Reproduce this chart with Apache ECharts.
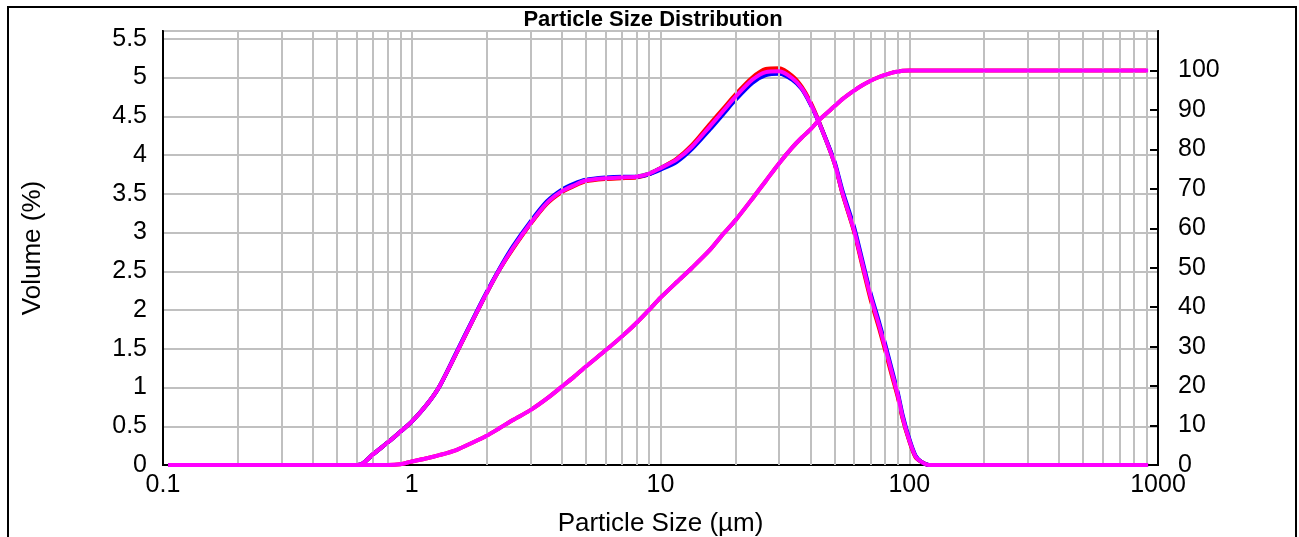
<!DOCTYPE html>
<html>
<head>
<meta charset="utf-8">
<script src="https://cdn.jsdelivr.net/npm/echarts@6/dist/echarts.min.js"></script>
<style>
  html, body { margin: 0; padding: 0; background: #fff; }
  #chart { width: 1299px; height: 537px; }
</style>
</head>
<body>
<div id="chart"></div>
<script>
// Particle sizes (µm)
const sizes = [0.105, 0.6, 0.635, 0.7, 0.8, 0.9, 1, 1.15, 1.29, 1.51, 1.76, 2, 2.25, 2.55, 3, 3.49, 4, 4.5, 5, 6, 7, 8, 9, 10, 11.6, 13.4, 15.8, 18, 20, 23.4, 26.5, 30, 33.9, 37, 40, 43.5, 50, 54, 60, 65, 70, 76, 80, 85, 90, 94, 100, 106, 112, 120, 200, 500, 912];
// Volume density (%) – individual measurements
const volMagenta = [0, 0, 0.02, 0.14, 0.29, 0.43, 0.56, 0.78, 1.01, 1.44, 1.87, 2.22, 2.52, 2.80, 3.12, 3.38, 3.53, 3.61, 3.67, 3.70, 3.71, 3.72, 3.76, 3.83, 3.94, 4.11, 4.37, 4.58, 4.75, 4.97, 5.07, 5.08, 4.99, 4.86, 4.67, 4.41, 3.90, 3.50, 3.03, 2.58, 2.17, 1.78, 1.52, 1.20, 0.90, 0.62, 0.32, 0.11, 0.04, 0, 0, 0, 0];
const volRed     = [0, 0, 0.02, 0.14, 0.29, 0.43, 0.56, 0.78, 1.01, 1.44, 1.87, 2.22, 2.52, 2.79, 3.11, 3.37, 3.52, 3.60, 3.66, 3.69, 3.70, 3.71, 3.75, 3.83, 3.95, 4.13, 4.40, 4.61, 4.78, 5.00, 5.11, 5.12, 5.02, 4.88, 4.69, 4.42, 3.90, 3.49, 3.01, 2.55, 2.13, 1.74, 1.48, 1.16, 0.87, 0.60, 0.31, 0.10, 0.04, 0, 0, 0, 0];
const volBlue    = [0, 0, 0.02, 0.14, 0.29, 0.43, 0.56, 0.78, 1.01, 1.45, 1.88, 2.23, 2.53, 2.82, 3.14, 3.40, 3.55, 3.63, 3.68, 3.71, 3.72, 3.72, 3.75, 3.81, 3.91, 4.08, 4.33, 4.54, 4.71, 4.93, 5.03, 5.05, 4.97, 4.85, 4.66, 4.41, 3.92, 3.53, 3.07, 2.62, 2.21, 1.82, 1.56, 1.24, 0.93, 0.65, 0.34, 0.12, 0.04, 0, 0, 0, 0];
// Cumulative volume (%)
const cumMagenta = [0, 0, 0, 0, 0, 0.2, 0.9, 1.7, 2.5, 3.8, 5.7, 7.4, 9.3, 11.4, 13.9, 16.8, 19.8, 22.4, 24.9, 29.0, 32.6, 36.0, 39.3, 42.4, 46.3, 50.0, 54.5, 58.8, 62.0, 67.5, 72.0, 76.5, 80.5, 83.0, 85.0, 87.5, 90.9, 92.8, 94.9, 96.3, 97.4, 98.4, 98.9, 99.4, 99.7, 99.9, 100, 100, 100, 100, 100, 100, 100];
// Vertical minor grid positions (µm)
const minorGrid = [0.2, 0.3, 0.4, 0.5, 0.6, 0.7, 0.8, 0.9, 2, 3, 4, 5, 6, 7, 8, 9, 20, 30, 40, 50, 60, 70, 80, 90, 200, 300, 400, 500, 600, 700, 800, 900];

const FONT = "'Liberation Sans', Arial, sans-serif";
const pair = arr => sizes.map((s, i) => [s, arr[i]]);

const chart = echarts.init(document.getElementById('chart'), null, { renderer: 'canvas' });

const lineSeries = (name, data, color, yIndex, z) => ({
  name, type: 'line', data: pair(data), xAxisIndex: 0, yAxisIndex: yIndex,
  showSymbol: false, symbol: 'none', smooth: 0.25, z,
  lineStyle: { color, width: 4 }, emphasis: { disabled: true }, silent: true
});

chart.setOption({
  animation: false,
  backgroundColor: '#ffffff',
  graphic: [
    { type: 'rect', z: -10, shape: { x: 8, y: 7, width: 1288, height: 545 }, style: { fill: 'none', stroke: '#000', lineWidth: 2 } },
    { type: 'text', z: 10, style: { x: 653, y: 20, text: 'Particle Size Distribution', fill: '#000', font: "bold 22px 'Liberation Sans', Arial, sans-serif", textAlign: 'center', textVerticalAlign: 'middle' } }
  ],
  grid: { left: 163, right: 141, top: 31, bottom: 72, show: true, borderColor: '#000', borderWidth: 2, backgroundColor: 'transparent', outerBoundsMode: 'none' },
  xAxis: {
    type: 'log', logBase: 10, min: 0.1, max: 1000,
    name: 'Particle Size (µm)', nameLocation: 'middle', nameGap: 46,
    nameTextStyle: { fontFamily: FONT, fontSize: 26, color: '#000' },
    axisLine: { show: true, lineStyle: { color: '#000', width: 2 } },
    axisTick: { show: false },
    axisLabel: { fontFamily: FONT, fontSize: 25, color: '#000', margin: 8, formatter: v => String(v) },
    splitLine: { show: true, lineStyle: { color: '#c0c0c0', width: 2 } }
  },
  yAxis: [
    {
      type: 'value', min: 0, max: 5.6, interval: 0.5, position: 'left',
      name: 'Volume (%)', nameLocation: 'middle', nameGap: 117,
      nameTextStyle: { fontFamily: FONT, fontSize: 26, color: '#000' },
      axisLine: { show: true, lineStyle: { color: '#000', width: 2 } },
      axisTick: { show: false },
      axisLabel: { fontFamily: FONT, fontSize: 25, color: '#000', margin: 16, showMaxLabel: false },
      splitLine: { show: true, lineStyle: { color: '#c0c0c0', width: 2 } }
    },
    {
      type: 'value', min: 0, max: 110, interval: 10, position: 'right',
      axisLine: { show: true, lineStyle: { color: '#000', width: 2 } },
      axisTick: { show: true, inside: true, length: 8, lineStyle: { color: '#000', width: 2 } },
      axisLabel: { fontFamily: FONT, fontSize: 25, color: '#000', margin: 20, showMaxLabel: false, align: 'left' },
      splitLine: { show: false }
    }
  ],
  series: [
    {
      name: 'grid', type: 'line', data: [], z: 1, silent: true,
      markLine: {
        silent: true, symbol: ['none', 'none'], animation: false,
        label: { show: false },
        lineStyle: { color: '#c0c0c0', width: 2, type: 'solid' },
        emphasis: { disabled: true },
        data: minorGrid.map(v => ({ xAxis: v }))
      }
    },
    lineSeries('freqGreen', volMagenta, '#008000', 0, 2),
    lineSeries('freqRed', volRed, '#ff0000', 0, 3),
    lineSeries('freqBlue', volBlue, '#0000ff', 0, 4),
    lineSeries('cumRed', cumMagenta, '#ff0000', 1, 3),
    lineSeries('freqMagenta', volMagenta, '#ff00ff', 0, 5),
    lineSeries('cumMagenta', cumMagenta, '#ff00ff', 1, 5)
  ]
});
</script>
</body>
</html>
